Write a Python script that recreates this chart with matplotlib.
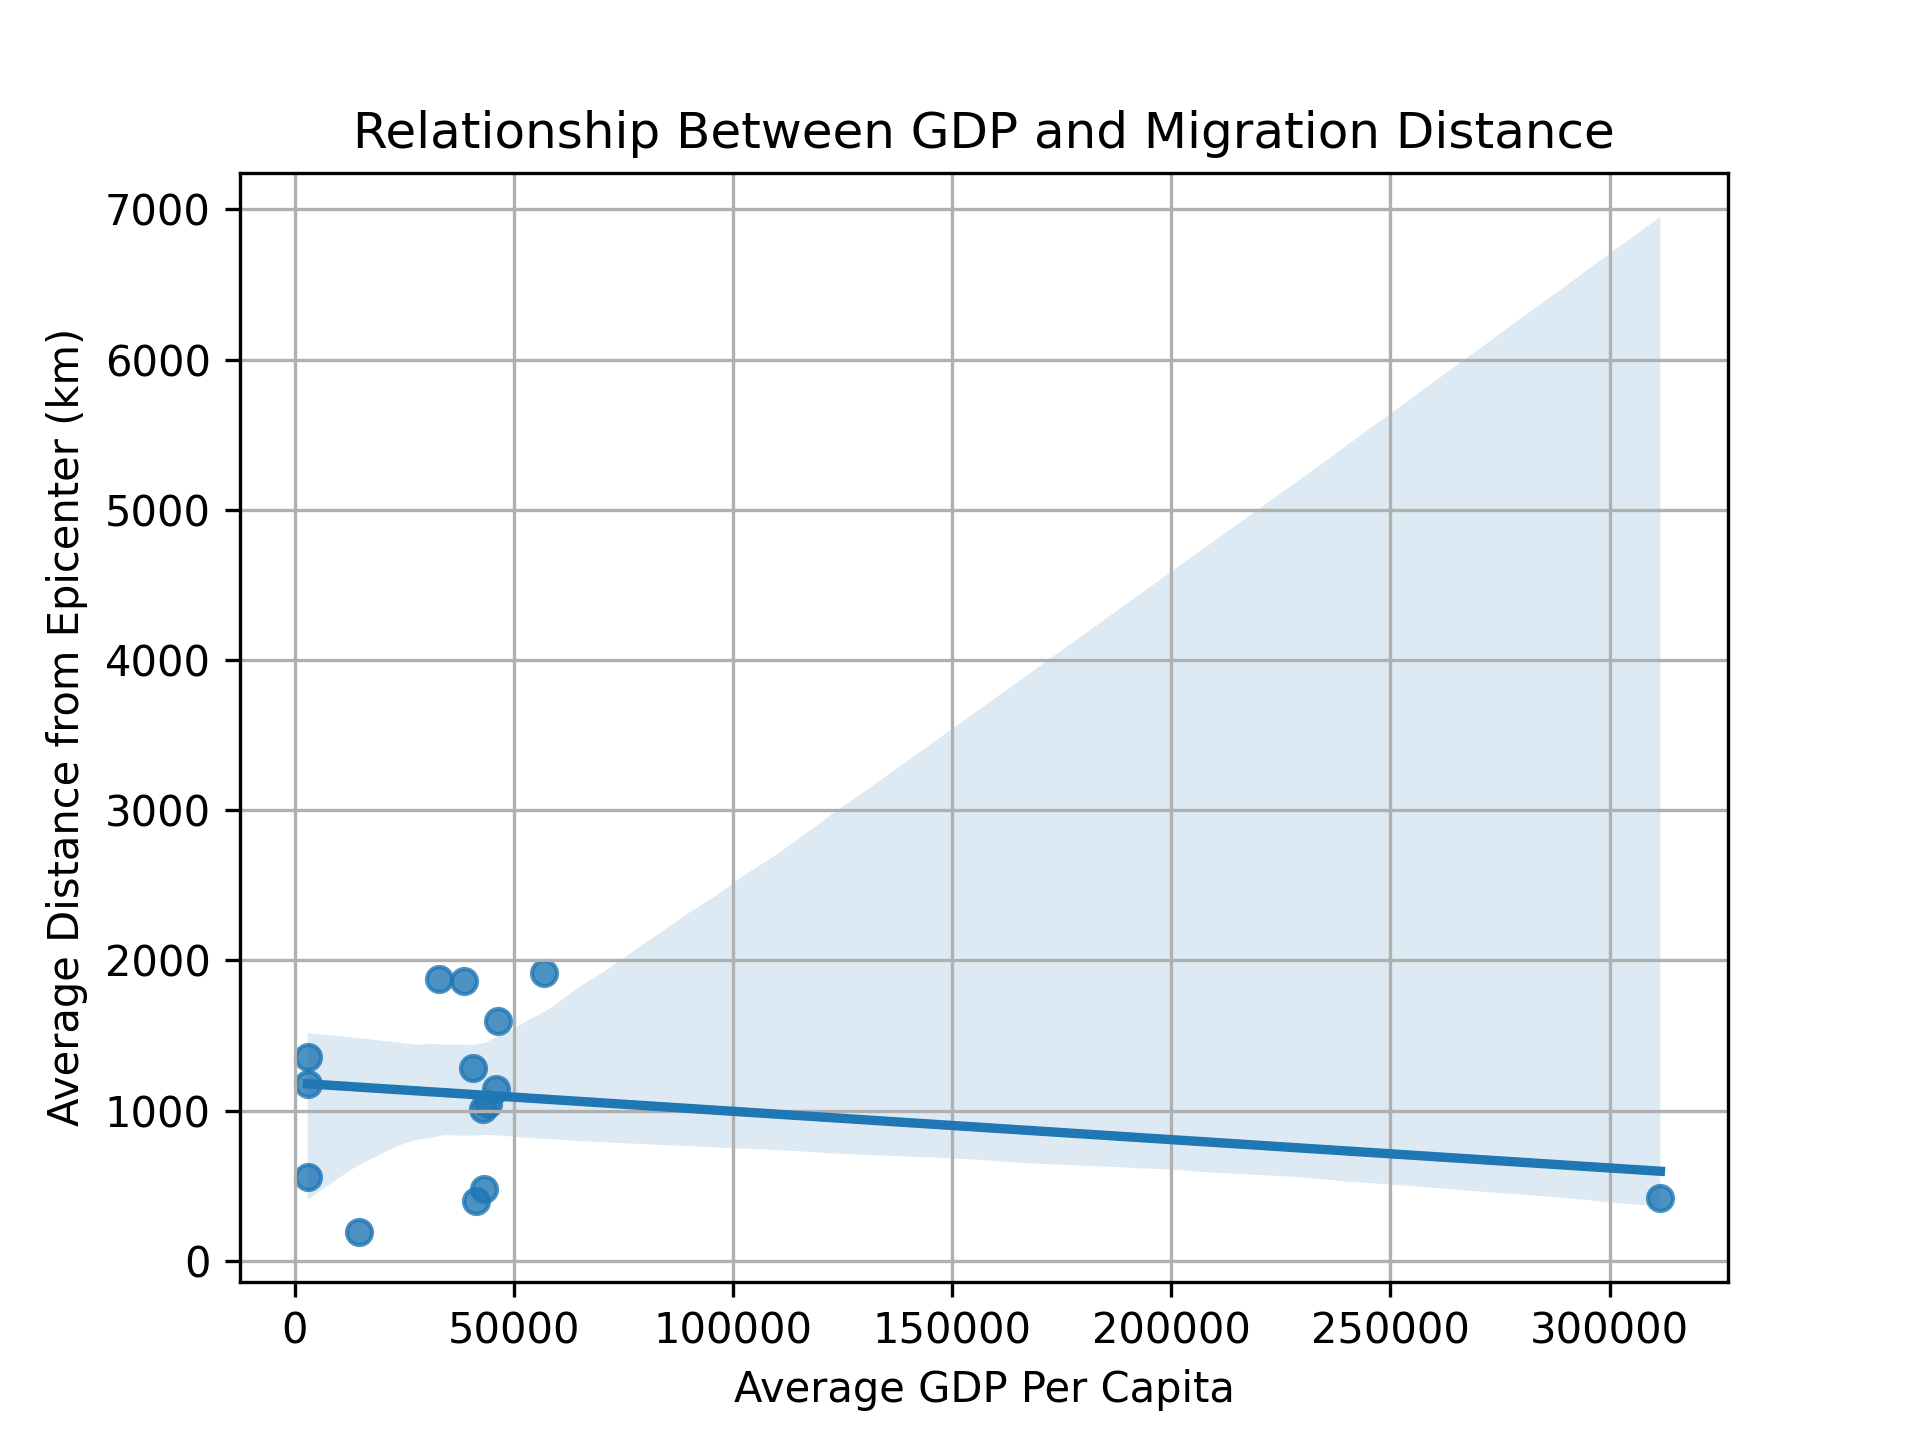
import matplotlib
matplotlib.use("Agg")
import matplotlib.pyplot as plt
import seaborn as sns
import pandas as pd

gdp = [33030, 38590, 56780, 46350, 2970, 2970, 40640, 45980, 44060, 42920,
       2970, 43310, 41410, 14610, 311570]
distance = [1874, 1863, 1914, 1597, 1357, 1176, 1286, 1142, 1042, 1009,
            559, 477, 399, 193, 417]

df = pd.DataFrame({"gdp": gdp, "distance": distance})

fig, ax = plt.subplots(figsize=(6.4, 4.8), dpi=300)
sns.regplot(data=df, x="gdp", y="distance", ax=ax, seed=0)
ax.set_ylim(-139, 7244)
ax.set_title("Relationship Between GDP and Migration Distance")
ax.set_xlabel("Average GDP Per Capita")
ax.set_ylabel("Average Distance from Epicenter (km)")
ax.grid(True)
fig.savefig("out.png", dpi=300)
